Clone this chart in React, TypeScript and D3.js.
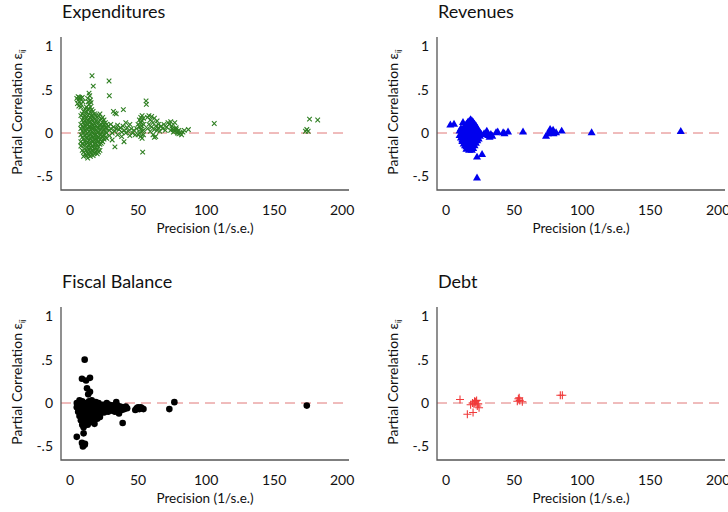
import React, { useEffect, useRef } from "react";
import * as d3 from "d3";

type Pt = [number, number];

// x = precision (1/s.e.), y = partial correlation
const expenditures: Pt[] = [
  [5, 0.4], [6, 0.42], [7, 0.41], [8, 0.4], [9, 0.41], [6, 0.38], [7, 0.36], [8, 0.33], [5.5, 0.34], [9.5, 0.36], [8, 0.3], [6.5, 0.31],
  [14, 0.46], [14.5, 0.43], [13, 0.4], [15, 0.38], [13.5, 0.36], [15.5, 0.35], [14, 0.33],
  [16.2, 0.66], [17.1, 0.54], [28.7, 0.6], [28.9, 0.43], [55.9, 0.37], [56.1, 0.33], [31.9, 0.25], [33, 0.23], [39.2, 0.27], [34, 0.22],
  [8, 0.2], [8, 0.1], [8, 0.05], [8, -0.02], [8, -0.1], [8, -0.15],
  [9, 0.22], [9, 0.15], [9, 0.08], [9, 0.02], [9, -0.05], [9, -0.12], [9, -0.2],
  [10, 0.25], [10, 0.18], [10, 0.12], [10, 0.06], [10, 0], [10, -0.07], [10, -0.14], [10, -0.22], [10, -0.27],
  [11, 0.28], [11, 0.2], [11, 0.14], [11, 0.09], [11, 0.03], [11, -0.03], [11, -0.1], [11, -0.18], [11, -0.24],
  [12, 0.3], [12, 0.24], [12, 0.17], [12, 0.11], [12, 0.05], [12, -0.01], [12, -0.06], [12, -0.13], [12, -0.2], [12, -0.26],
  [13, 0.27], [13, 0.2], [13, 0.15], [13, 0.1], [13, 0.04], [13, 0], [13, -0.05], [13, -0.11], [13, -0.17], [13, -0.23], [13, -0.29],
  [14, 0.28], [14, 0.22], [14, 0.16], [14, 0.12], [14, 0.07], [14, 0.02], [14, -0.03], [14, -0.08], [14, -0.14], [14, -0.19], [14, -0.25],
  [15, 0.3], [15, 0.24], [15, 0.18], [15, 0.13], [15, 0.08], [15, 0.04], [15, -0.01], [15, -0.06], [15, -0.12], [15, -0.17], [15, -0.22], [15, -0.27],
  [16, 0.27], [16, 0.2], [16, 0.15], [16, 0.1], [16, 0.05], [16, 0.01], [16, -0.04], [16, -0.09], [16, -0.15], [16, -0.2], [16, -0.24],
  [17, 0.25], [17, 0.19], [17, 0.14], [17, 0.09], [17, 0.05], [17, 0], [17, -0.05], [17, -0.1], [17, -0.16], [17, -0.21], [17, -0.26],
  [18, 0.22], [18, 0.16], [18, 0.11], [18, 0.06], [18, 0.02], [18, -0.03], [18, -0.08], [18, -0.13], [18, -0.18], [18, -0.23],
  [19, 0.2], [19, 0.14], [19, 0.08], [19, 0.03], [19, -0.02], [19, -0.07], [19, -0.12], [19, -0.17], [19, -0.22],
  [20, 0.18], [20, 0.12], [20, 0.07], [20, 0.02], [20, -0.03], [20, -0.08], [20, -0.14], [20, -0.19], [20, -0.24],
  [21, 0.2], [21, 0.13], [21, 0.06], [21, 0.01], [21, -0.05], [21, -0.1], [21, -0.16], [21, -0.22],
  [22, 0.22], [22, 0.15], [22, 0.09], [22, 0.03], [22, -0.02], [22, -0.08], [22, -0.13], [22, -0.2],
  [23, 0.16], [23, 0.1], [23, 0.05], [23, -0.01], [23, -0.06], [23, -0.12],
  [24, 0.18], [24, 0.12], [24, 0.07], [24, 0.02], [24, -0.04], [24, -0.1],
  [25, 0.15], [25, 0.09], [25, 0.04], [25, -0.02], [25, -0.07],
  [26, 0.12], [26, 0.06], [26, 0.01], [26, -0.05],
  [27, 0.1], [27, 0.05], [27, 0], [27, -0.06],
  [28, 0.08], [29, 0.03], [29, -0.03], [30, 0.1], [30, 0.05], [31, 0.0], [31, -0.08], [32, 0.07], [33, 0.02], [33, -0.16],
  [34, 0.05], [35, 0.09], [35, -0.02], [36, 0.04], [37, 0.06], [38, 0.01], [38, -0.04], [39, 0.08], [39.7, -0.1], [40, 0.03],
  [41, 0.12], [41, 0.0], [42, 0.06], [43, 0.02], [44, 0.1], [44, -0.03], [45, 0.05], [46, 0.0], [47, 0.03], [48, -0.02],
  [49, 0.05], [50, 0.1], [50, -0.02], [51, 0.15], [51, 0.07], [51, 0.0], [52, 0.18], [52, 0.12], [52, 0.04], [52, -0.04],
  [53, 0.2], [53, 0.14], [53, 0.08], [53, 0.02], [53, -0.06], [54, 0.17], [54, 0.1], [54, 0.03], [54, -0.02], [53.4, -0.22],
  [57, 0.18], [58, 0.2], [59, 0.15], [60, 0.19], [61, 0.12], [62, 0.17], [63, 0.08], [64, 0.14], [65, 0.1], [57, 0.05],
  [58, 0.1], [59, 0.02], [60, 0.07], [61, -0.02], [62, 0.04], [63, -0.04], [64, 0.03], [65, 0.06], [66, 0.02], [62, -0.05],
  [67, 0.08], [68, 0.05], [69, 0.1], [70, 0.03], [71, 0.07], [72, 0.12], [73, 0.1], [74, 0.13], [75, 0.08], [76, 0.04], [77, 0.12], [78, 0.06], [79, 0.02],
  [74, 0.03], [75, 0.05], [76, 0.01], [77, 0.02], [78, 0.04], [79, 0.0], [80, -0.01], [80, 0.03], [81, 0.0], [82, -0.02], [83, 0.01], [84, 0.03], [87, 0.04],
  [106, 0.11], [173, 0.02], [174, 0.04], [175, 0.02], [176, 0.16], [182, 0.15],
];

const revenues: Pt[] = [
  [10, 0.02], [10, -0.03], [11, 0.05], [11, -0.02], [11, -0.06],
  [12, 0.03], [12, -0.04], [12, -0.08], [12, -0.1],
  [13, 0.06], [13, 0.0], [13, -0.05], [13, -0.1], [13, -0.13],
  [14, 0.08], [14, 0.03], [14, -0.02], [14, -0.07], [14, -0.12], [14, -0.15],
  [15, 0.1], [15, 0.04], [15, -0.01], [15, -0.06], [15, -0.11], [15, -0.16], [15, -0.19],
  [16, 0.12], [16, 0.06], [16, 0.01], [16, -0.04], [16, -0.09], [16, -0.14], [16, -0.18],
  [17, 0.13], [17, 0.08], [17, 0.03], [17, -0.02], [17, -0.07], [17, -0.12], [17, -0.17], [17, -0.2],
  [18, 0.15], [18, 0.1], [18, 0.05], [18, 0], [18, -0.05], [18, -0.1], [18, -0.15], [18, -0.19],
  [19, 0.14], [19, 0.09], [19, 0.04], [19, -0.01], [19, -0.06], [19, -0.11], [19, -0.16], [19, -0.2],
  [20, 0.12], [20, 0.07], [20, 0.02], [20, -0.03], [20, -0.08], [20, -0.13], [20, -0.18],
  [21, 0.1], [21, 0.05], [21, 0], [21, -0.05], [21, -0.1], [21, -0.15],
  [22, 0.08], [22, 0.03], [22, -0.02], [22, -0.07], [22, -0.12],
  [23, 0.05], [23, 0], [23, -0.05], [23, -0.09], [24, 0.02], [24, -0.03], [24, -0.07], [25, 0], [25, -0.04], [26, -0.02],
  [3.2, 0.09], [5.9, 0.1], [12.5, 0.12], [22.8, -0.28], [26.5, -0.25], [22.8, -0.52],
  [28, -0.01], [29.4, -0.02], [30, 0.02], [31, -0.03], [32, -0.05], [33, -0.02], [34, -0.04], [36.8, 0.0], [38, 0.01],
  [42, 0.0], [43, -0.01], [45.6, 0.01], [56.6, 0.01], [73.5, -0.04], [75, -0.01], [76.5, 0.04], [77, 0.02], [78, 0.0],
  [78.7, 0.03], [79, -0.01], [80.9, 0], [85, 0.02], [107, 0.0], [172.5, 0.015],
];

const fiscalBalance: Pt[] = [
  [10.8, 0.5], [8.8, 0.28], [11.8, 0.26], [14.7, 0.29], [12.5, 0.17], [14.7, 0.13], [13.4, 0.1],
  [5, -0.39], [10, -0.35], [8.8, -0.46], [10.8, -0.48], [9.5, -0.5], [11, -0.47], [38.7, -0.23],
  [5, 0.0], [5, -0.05], [6, -0.1], [7, 0.03], [7, -0.15], [8, -0.02], [8, -0.08], [8, -0.2], [9, 0.02], [9, -0.12],
  [9, -0.25], [10, -0.04], [10, -0.18], [10, -0.28], [11, 0.0], [11, -0.1], [11, -0.22], [12, -0.06], [12, -0.15],
  [13, -0.02], [13, -0.12], [13, -0.25], [14, 0.02], [14, -0.07], [14, -0.18], [15, -0.04], [15, -0.1], [15, -0.22],
  [16, 0.03], [16, -0.06], [16, -0.14], [17, 0.0], [17, -0.08], [17, -0.2], [18, -0.03], [18, -0.11], [18, -0.24],
  [19, 0.01], [19, -0.06], [19, -0.15], [20, -0.02], [20, -0.09], [20, -0.18], [21, 0.0], [21, -0.06], [21, -0.12],
  [22, -0.03], [22, -0.09], [22, -0.16], [23, -0.05], [23, -0.11], [24, -0.02], [24, -0.08], [25, -0.05], [25, -0.11],
  [26, -0.03], [26, -0.08], [27, 0.0], [27, -0.06], [28, -0.04], [28, -0.1], [29, -0.02], [29, -0.07], [30, -0.05],
  [31, -0.03], [31, -0.09], [32, -0.06], [33, -0.02], [33, -0.1], [34, 0.01], [34, -0.05], [35, -0.03], [35, -0.08],
  [36, -0.06], [36, -0.12], [37, -0.04], [38, -0.08], [39, -0.05], [40, -0.07], [41, -0.04], [42, -0.06],
  [48, -0.08], [49, -0.06], [50, -0.05], [51, -0.07], [52, -0.05], [53, -0.06], [54, -0.07],
  [73, -0.07], [76.7, 0.01], [174, -0.03],
];

const debt: Pt[] = [
  [10.3, 0.04], [15.7, -0.13], [19.9, -0.11], [18.1, -0.02], [19.5, 0.0], [20.6, -0.01], [21.8, 0.015], [22.5, 0.03],
  [23.7, -0.01], [23, -0.035], [24.3, -0.055], [21, 0.02], [53.2, 0.05], [52.4, 0.02], [54.2, 0.03], [56.1, 0.015],
  [53.8, 0.06], [84, 0.09], [85.5, 0.09],
];

const titles = ["Expenditures", "Revenues", "Fiscal Balance", "Debt"];
const xTicks = [0, 50, 100, 150, 200];
const yTicks = [1, 0.5, 0, -0.5];
const yTickLabels = ["1", ".5", "0", "-.5"];

const FONT = "Lato, 'Open Sans', sans-serif";

const App = () => {
  const svgRef = useRef<SVGSVGElement>(null);

  useEffect(() => {
    const svg = d3.select(svgRef.current);
    svg.selectAll("*").remove();

    const xScale = d3.scaleLinear().domain([-6.6, 205]).range([61, 349]);
    const yScale = d3.scaleLinear().domain([-0.657, 1.107]).range([190, 37]);

    const panels = [
      { data: expenditures, dx: 0, dy: 0, kind: "x" },
      { data: revenues, dx: 376, dy: 0, kind: "tri" },
      { data: fiscalBalance, dx: 0, dy: 270, kind: "dot" },
      { data: debt, dx: 376, dy: 270, kind: "plus" },
    ];

    panels.forEach((p, i) => {
      const g = svg.append("g").attr("transform", `translate(${p.dx},${p.dy})`);

      g.append("text")
        .attr("x", 62)
        .attr("y", 18)
        .attr("font-family", FONT)
        .attr("font-size", 18)
        .attr("fill", "#111")
        .text(titles[i]);

      // zero reference line
      g.append("line")
        .attr("x1", xScale.range()[0])
        .attr("x2", xScale.range()[1])
        .attr("y1", yScale(0))
        .attr("y2", yScale(0))
        .attr("stroke", "#e07878")
        .attr("stroke-width", 1)
        .attr("stroke-dasharray", "10,6");

      const marks = g.append("g");
      if (p.kind === "x") {
        marks.selectAll("path").data(p.data).join("path")
          .attr("transform", (d) => `translate(${xScale(d[0])},${yScale(d[1])})`)
          .attr("d", "M-2.3,-2.3L2.3,2.3M-2.3,2.3L2.3,-2.3")
          .attr("stroke", "#2f7f22")
          .attr("stroke-width", 1.1)
          .attr("fill", "none");
      } else if (p.kind === "tri") {
        const tri = d3.symbol().type(d3.symbolTriangle).size(28)();
        marks.selectAll("path").data(p.data).join("path")
          .attr("transform", (d) => `translate(${xScale(d[0])},${yScale(d[1])})`)
          .attr("d", tri)
          .attr("fill", "#0000ee");
      } else if (p.kind === "dot") {
        marks.selectAll("circle").data(p.data).join("circle")
          .attr("cx", (d) => xScale(d[0]))
          .attr("cy", (d) => yScale(d[1]))
          .attr("r", 3.3)
          .attr("fill", "#000");
      } else {
        marks.selectAll("path").data(p.data).join("path")
          .attr("transform", (d) => `translate(${xScale(d[0])},${yScale(d[1])})`)
          .attr("d", "M-4,0H4M0,-4V4")
          .attr("stroke", "#f03a3a")
          .attr("stroke-width", 1.1)
          .attr("fill", "none");
      }

      // axes lines
      g.append("path")
        .attr("d", `M${xScale.range()[0]},${yScale.range()[1]}V${yScale.range()[0]}H${xScale.range()[1]}`)
        .attr("stroke", "#555")
        .attr("stroke-width", 1.3)
        .attr("fill", "none");

      g.selectAll(".xt").data(xTicks).join("text")
        .attr("x", (d) => xScale(d))
        .attr("y", 215)
        .attr("text-anchor", "middle")
        .attr("font-family", FONT)
        .attr("font-size", 14)
        .attr("fill", "#111")
        .text((d) => String(d));

      g.selectAll(".yt").data(yTicks).join("text")
        .attr("x", 53)
        .attr("y", (d) => yScale(d))
        .attr("dy", "0.35em")
        .attr("text-anchor", "end")
        .attr("font-family", FONT)
        .attr("font-size", 14)
        .attr("fill", "#111")
        .text((d, j) => yTickLabels[j]);

      g.append("text")
        .attr("x", 205)
        .attr("y", 233)
        .attr("text-anchor", "middle")
        .attr("font-family", FONT)
        .attr("font-size", 13.5)
        .attr("fill", "#111")
        .text("Precision (1/s.e.)");

      const yl = g.append("text")
        .attr("transform", "translate(22,112) rotate(-90)")
        .attr("text-anchor", "middle")
        .attr("font-family", FONT)
        .attr("font-size", 14)
        .attr("fill", "#111");
      yl.append("tspan").text("Partial Correlation ε");
      yl.append("tspan").attr("font-size", 8).attr("dy", 3).text("ij");
    });
  }, []);

  return (
    <svg
      ref={svgRef}
      width={728}
      height={512}
      style={{ position: "absolute", left: 0, top: 0, background: "#fff" }}
    />
  );
};

export default App;
